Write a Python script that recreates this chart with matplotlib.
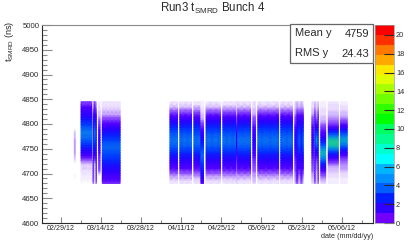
import matplotlib
matplotlib.use("Agg")
import matplotlib.pyplot as plt
import numpy as np
from datetime import date
from matplotlib.colors import LinearSegmentedColormap, ListedColormap, Normalize
from matplotlib.dates import date2num
from matplotlib.patches import Rectangle
from matplotlib.ticker import FixedLocator, MultipleLocator

plt.rcParams['font.family'] = ['Liberation Sans', 'DejaVu Sans']
plt.rcParams['mathtext.default'] = 'regular'

W, H = 415, 248

# y samples: 4680 to 4845 ns, lowest first, 33 per profile
Y_LOW, Y_HIGH, Y_COUNT = 4680, 4845, 33

# typical blocks of april/may
MAIN_1 = [.16,.2,.3,.38,.5,.75,1.0,1.25,1.5,1.8,2.1,2.5,3.0,3.5,4.0,4.4,4.7,4.8,4.6,4.4,4.0,3.5,3.1,2.6,2.1,1.6,1.2,.9,.62,.42,.3,.2,.16]
MAIN_2 = [.2,.16,.34,.32,.6,.7,1.1,1.15,1.6,1.75,2.25,2.6,2.9,3.7,3.9,4.6,4.5,5.0,4.5,4.5,3.9,3.6,2.9,2.7,2.0,1.75,1.1,1.0,.5,.5,.24,.26,.12]
MAIN_3 = [.12,.24,.24,.44,.46,.85,.9,1.3,1.4,1.9,2.0,2.4,3.1,3.3,4.1,4.2,4.9,4.6,4.8,4.1,4.1,3.3,3.2,2.4,2.2,1.45,1.3,.75,.7,.36,.36,.16,.2]
MAIN_4 = [.18,.18,.28,.34,.55,.65,1.05,1.2,1.35,1.85,2.2,2.3,2.9,3.6,3.7,4.3,4.4,4.5,4.3,4.2,3.7,3.4,3.0,2.5,2.0,1.5,1.1,.85,.55,.46,.26,.22,.14]
# early march, shifted up
EARLY_1 = [.05,.1,.12,.14,.16,.18,.2,.24,.3,.5,.8,1.2,1.6,2.0,2.5,3.1,3.6,4.2,4.6,4.9,5.1,4.7,4.2,3.6,3.1,2.6,2.1,1.9,1.5,1.3,1.0,.9,.6]
EARLY_2 = [.08,.06,.14,.1,.2,.14,.26,.2,.38,.42,.9,1.1,1.7,1.9,2.7,2.9,3.8,4.0,4.9,4.6,5.3,4.4,4.4,3.4,3.3,2.4,2.2,1.7,1.6,1.1,1.1,.7,.7]
# block after the first gap
MID_1 = [.7,1.0,1.1,1.3,1.5,1.8,2.0,2.3,2.6,3.0,3.3,3.6,3.9,4.2,4.5,4.4,4.1,3.6,3.2,2.8,2.4,2.0,1.6,1.2,.9,.7,.5,.36,.3,.25,.2,.18,.14]
MID_2 = [.8,.85,1.2,1.15,1.7,1.65,2.2,2.15,2.8,2.8,3.5,3.4,4.1,4.0,4.6,4.2,4.3,3.4,3.4,2.6,2.6,1.8,1.7,1.1,1.0,.6,.56,.3,.34,.2,.24,.12,.18]
# narrow, low runs
NARROW = [.6,.9,1.0,1.1,1.2,1.3,1.4,1.4,1.5,1.6,1.7,1.8,2.0,2.2,2.4,2.6,2.8,2.9,2.8,2.6,2.4,2.2,2.0,1.8,1.6,1.4,1.2,1.0,.7,.5,.4,.35,.3]
THIN_LOW = [.0,.0,.0,.0,.3,.5,.6,.7,.7,.8,.8,.9,1.0,1.1,1.2,1.3,1.4,1.4,1.3,1.2,1.1,1.0,.9,.8,.6,.5,.4,.3,.3,.2,.2,.15,.15]
FIRST = [0,0,0,.15,0,0,0,0,0,.2,.3,.3,.35,.4,.4,.4,.4,.35,.3,.3,.25,.1,0,0,0,0,0,0,0,0,0,0,0]
# dropping run at the end of april
LOW_SHIFT = [1.0,1.3,1.6,1.9,2.2,2.5,2.9,3.2,3.6,4.0,4.3,4.5,4.3,4.0,3.6,3.1,2.7,2.3,2.0,1.7,1.4,1.1,.9,.7,.5,.4,.3,.25,.22,.18,.16,.14,.12]
# june runs, narrow and hotter
LATE_P = [.2,.25,.35,.5,.7,1.0,1.5,2.2,3.0,4.2,5.4,6.4,7.0,6.4,5.3,4.2,3.2,2.4,1.8,1.4,1.1,.9,.7,.5,.4,.32,.28,.24,.2,.18,.16,.14,.12]
LATE_Q = [.12,.14,.16,.2,.24,.28,.32,.4,.6,.9,1.4,2.1,3.0,4.4,6.2,7.8,8.6,8.0,6.3,4.6,3.2,2.1,1.3,.8,.55,.42,.36,.3,.26,.22,.2,.18,.14]
LATE_R = [.1,.14,.16,.2,.24,.28,.34,.4,.44,.5,.7,1.1,1.6,2.3,3.4,4.7,5.8,6.3,5.6,4.6,3.5,2.5,1.7,1.1,.7,.5,.38,.32,.26,.22,.18,.16,.12]
PALE = [.2,.3,.3,.4,.4,.5,.5,.6,.7,.8,.9,1.0,1.2,1.3,1.5,1.6,1.7,1.7,1.6,1.5,1.3,1.2,1.0,.9,.7,.6,.5,.4,.3,.3,.2,.2,.2]

# run blocks, days since 02/29/12
SEG_START = [4.75, 7.1, 8.9, 11.3, 13.25, 14.5, 38.1, 41.55, 46.45, 48.9, 50.7, 56.55, 61.3, 61.75, 67.0, 68.75, 76.75, 81.65, 82.5, 87.6, 88.6, 90.7, 93.3, 97.6]
SEG_END = [5.0, 8.8, 10.8, 12.4, 13.7, 20.7, 40.7, 45.6, 48.9, 49.8, 55.7, 61.25, 61.7, 66.2, 67.9, 76.0, 80.8, 82.4, 84.6, 88.1, 89.8, 92.4, 96.8, 99.9]
SEG_PROFILES = [
    [FIRST], [EARLY_1, EARLY_2], [EARLY_2, EARLY_1], [NARROW, EARLY_1], [THIN_LOW],
    [MID_1, MID_2], [MAIN_1, MAIN_2, MAIN_3], [MAIN_2, MAIN_4, MAIN_1], [MAIN_3, MAIN_4], [LOW_SHIFT],
    [MAIN_4, MAIN_1, MAIN_2], [MAIN_1, MAIN_3, MAIN_4], [PALE], [MAIN_2, MAIN_1, MAIN_3], [PALE],
    [MAIN_3, MAIN_2, MAIN_4, MAIN_1], [MAIN_4, MAIN_2, MAIN_3], [PALE, NARROW], [NARROW, MAIN_4], [PALE],
    [NARROW, LATE_R], [LATE_P], [LATE_Q], [LATE_R],
]

TICK_DATES = [date(2012, 2, 29), date(2012, 3, 14), date(2012, 3, 28), date(2012, 4, 11),
              date(2012, 4, 25), date(2012, 5, 9), date(2012, 5, 23), date(2012, 6, 6)]
TICK_LABELS = ["02/29/12", "03/14/12", "03/28/12", "04/11/12", "04/25/12", "05/09/12", "05/23/12", "06/06/12"]

# palette of the z scale, bottom to top
Z_MAX = 21.06
Z_COLORS = ["#7000ff", "#3000ff", "#0020ff", "#0060ff", "#0090ff", "#00b4ff", "#00ffff", "#00ffd0", "#00ff90", "#00ff60",
            "#00ff00", "#30ff00", "#70ff00", "#a8ff00", "#e0ff00", "#ffe800", "#ffa800", "#ff7800", "#ff3000", "#ff0000"]
Z_TICKS = [0, 2, 4, 6, 8, 10, 12, 14, 16, 18, 20]

DATA_STOPS = [(0, "#ffffff"), (.18, "#e8d8ff"), (.5, "#9050ff"), (1.0, "#5000ff"), (1.7, "#3000ff"), (2.6, "#1018ff"), (3.6, "#0040ff"),
              (5.0, "#0c78ee"), (6.0, "#0098e0"), (7.2, "#10b8b0"), (9.0, "#20d090"), (Z_MAX, "#ff0000")]

GREY = "#8a8a8a"
DARK = "#2a2a2a"


def px_axes(fig, left, top, right, bottom):
    return fig.add_axes([left / W, 1 - bottom / H, (right - left) / W, (bottom - top) / H])


fig = plt.figure(figsize=(W / 100, H / 100), dpi=100)
ax = px_axes(fig, 41.5, 25, 373, 223)

data_cmap = LinearSegmentedColormap.from_list("data", [(v / Z_MAX, c) for v, c in DATA_STOPS])
data_norm = Normalize(0, Z_MAX)
day0 = date2num(date(2012, 2, 29))
y_nodes = np.linspace(Y_LOW, Y_HIGH, Y_COUNT)
for start, end, profiles in zip(SEG_START, SEG_END, SEG_PROFILES):
    n = max(2, round((end - start) / 0.7) + 1)
    x_nodes = day0 + np.linspace(start, end, n)
    cols = [profiles[i % len(profiles)] for i in range(n)]
    ax.pcolormesh(x_nodes, y_nodes, np.array(cols).T, cmap=data_cmap, norm=data_norm,
                  shading='gouraud', rasterized=True)

ax.set_xlim(day0 - 6.7, day0 + 98 + 10.9)
ax.set_ylim(4600, 5000)
ax.set_xticks([date2num(d) for d in TICK_DATES])
ax.set_xticklabels(TICK_LABELS)
ax.xaxis.set_minor_locator(FixedLocator([date2num(d) + 7 for d in TICK_DATES] + [day0 - 7]))
ax.set_yticks(range(4600, 5001, 50))
ax.yaxis.set_minor_locator(MultipleLocator(10))
ax.tick_params(axis='x', which='major', direction='in', length=4.3, width=.8, color=GREY, labelsize=5.1, pad=1.6, labelcolor=DARK)
ax.tick_params(axis='x', which='minor', direction='in', length=2.2, width=.8, color=GREY)
ax.tick_params(axis='y', which='major', direction='in', length=7.2, width=.8, color=GREY, labelsize=5.6, pad=1.5, labelcolor=DARK)
ax.tick_params(axis='y', which='minor', direction='in', length=3.6, width=.8, color=GREY)
ax.spines['left'].set_color(DARK)
ax.spines['bottom'].set_color(DARK)
ax.spines['right'].set_color(DARK)
ax.spines['top'].set_color(GREY)
for s in ax.spines.values():
    s.set_linewidth(.8)

fig.text(213 / W, 1 - 8 / H, r"Run3 t$_{SMRD}$ Bunch 4", fontsize=8.3, ha='center', va='center', color=DARK)
fig.text(10 / W, 1 - 41 / H, r"t$_{SMRD}$ (ns)", fontsize=6.6, rotation=90, ha='center', va='center', color=DARK)
fig.text(373 / W, 1 - 237 / H, "date (mm/dd/yy)", fontsize=5.2, ha='right', va='center', color=DARK)

# stats box
fig.add_artist(Rectangle((290 / W, 1 - 63 / H), 82.7 / W, 39 / H, transform=fig.transFigure,
                         facecolor='white', edgecolor='#666666', linewidth=.9, zorder=5))
fig.text(294.5 / W, 1 - 33 / H, "Mean y", fontsize=8, va='center', color=DARK, zorder=6)
fig.text(369 / W, 1 - 34 / H, "4759", fontsize=8, va='center', ha='right', color=DARK, zorder=6)
fig.text(294.5 / W, 1 - 53 / H, "RMS y", fontsize=8, va='center', color=DARK, zorder=6)
fig.text(369 / W, 1 - 54 / H, "24.43", fontsize=8, va='center', ha='right', color=DARK, zorder=6)

# z scale
cax = px_axes(fig, 375, 25, 394, 223)
z_edges = np.linspace(0, Z_MAX, len(Z_COLORS) + 1)
cax.pcolormesh([0, 1], z_edges, np.arange(len(Z_COLORS)).reshape(-1, 1),
               cmap=ListedColormap(Z_COLORS), shading='flat', antialiased=False)
cax.set_xlim(0, 1)
cax.set_ylim(0, Z_MAX)
cax.set_xticks([])
cax.yaxis.tick_right()
cax.set_yticks(Z_TICKS)
cax.tick_params(axis='y', direction='in', length=7.2, width=.8, color=DARK, labelsize=5.3, pad=1.5, labelcolor=DARK)
for s in cax.spines.values():
    s.set_linewidth(.5)
    s.set_color('#999999')

fig.savefig("out.png", dpi=100)
